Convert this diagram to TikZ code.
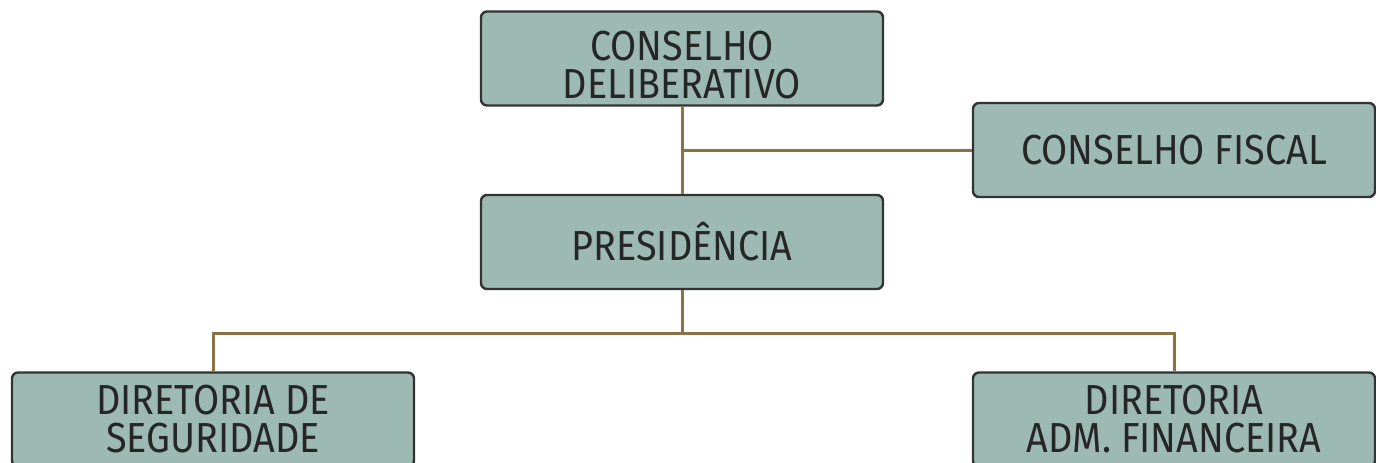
\documentclass[tikz,border=0pt]{standalone}
\usepackage{fontspec}
\setmainfont[FakeStretch=0.9]{Fira Sans}
\usepackage{xcolor}
\usetikzlibrary{positioning, calc}
\definecolor{boxfill}{HTML}{9DB9B3}
\definecolor{boxline}{HTML}{333333}
\definecolor{linkline}{HTML}{8C7343}

\begin{document}
\begin{tikzpicture}[x=1pt, y=-1pt,
        orgbox/.style={
                draw=boxline,
                fill=boxfill,
                rounded corners=6pt,
                line width=2.4pt,
                minimum width=402pt,
                minimum height=94pt,
                align=center,
                text=black!85,
                font=\fontsize{42}{38}\selectfont,
                inner sep=0pt,
        },
        link/.style={draw=linkline, line width=3pt},
        ]
            \clip (0, 0) rectangle (1376, 463);
            \useasboundingbox (0, 0) rectangle (1376, 463);
            \node[orgbox, text height=80pt] (deliberativo) at (682, 58.5) {CONSELHO\\DELIBERATIVO};
            \node[orgbox] (fiscal) at (1174, 150) {CONSELHO FISCAL};
            \node[orgbox] (presidencia) at (682, 242) {PRESIDÊNCIA};
            \node[orgbox] (seguridade) at (213, 419.5) {DIRETORIA DE\\SEGURIDADE};
            \node[orgbox] (financeira) at (1174, 419.5) {DIRETORIA\\ADM. FINANCEIRA};
            \coordinate (juncao) at (682, 333);
            % ligacoes
            \draw[link] (deliberativo.south) -- (presidencia.north);
            \draw[link] (fiscal.west) -- (deliberativo.south |- fiscal.west);
            \draw[link] (presidencia.south) -- (juncao);
            \draw[link] (seguridade.north) |- (juncao) -| (financeira.north);
        \end{tikzpicture}
\end{document}
